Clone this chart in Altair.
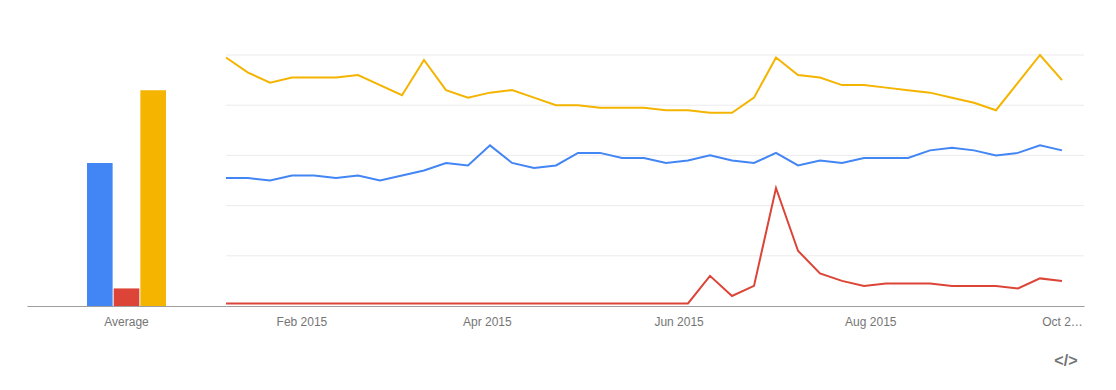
import altair as alt
import pandas as pd

# ---- data ----
series = ["Term 1", "Term 2", "Term 3"]
colors = ["#4285F4", "#DB4437", "#F4B400"]

average_label = "Average"
averages = [57, 7, 86]

week_dates = [
    "2015-01-08", "2015-01-15", "2015-01-22", "2015-01-29", "2015-02-05",
    "2015-02-12", "2015-02-19", "2015-02-26", "2015-03-05", "2015-03-12",
    "2015-03-19", "2015-03-26", "2015-04-02", "2015-04-09", "2015-04-16",
    "2015-04-23", "2015-04-30", "2015-05-07", "2015-05-14", "2015-05-21",
    "2015-05-28", "2015-06-04", "2015-06-11", "2015-06-18", "2015-06-25",
    "2015-07-02", "2015-07-09", "2015-07-16", "2015-07-23", "2015-07-30",
    "2015-08-06", "2015-08-13", "2015-08-20", "2015-08-27", "2015-09-03",
    "2015-09-10", "2015-09-17", "2015-09-24", "2015-10-01",
]

blue_values = [51, 51, 50, 52, 52, 51, 52, 50, 52, 54,
               57, 56, 64, 57, 55, 56, 61, 61, 59, 59,
               57, 58, 60, 58, 57, 61, 56, 58, 57, 59,
               59, 59, 62, 63, 62, 60, 61, 64, 62]
red_values = [1, 1, 1, 1, 1, 1, 1, 1, 1, 1,
              1, 1, 1, 1, 1, 1, 1, 1, 1, 1,
              1, 1, 12, 4, 8, 47, 22, 13, 10, 8,
              9, 9, 9, 8, 8, 8, 7, 11, 10]
yellow_values = [99, 93, 89, 91, 91, 91, 92, 88, 84, 98,
                 86, 83, 85, 86, 83, 80, 80, 79, 79, 79,
                 78, 78, 77, 77, 83, 99, 92, 91, 88, 88,
                 87, 86, 85, 83, 81, 78, 89, 100, 90]

tick_months = [(2015, 2), (2015, 4), (2015, 6), (2015, 8), (2015, 10)]
y_grid = [20, 40, 60, 80, 100]
icon_text = "</>"

# ---- tables ----
avg_df = pd.DataFrame({
    "label": [average_label] * len(series),
    "series": series,
    "value": averages,
})

rows = []
for name, vals in zip(series, [blue_values, red_values, yellow_values]):
    for d, v in zip(week_dates, vals):
        rows.append({"date": d, "series": name, "value": v})
line_df = pd.DataFrame(rows)
grid_df = pd.DataFrame({"v": y_grid})

FONT = "Liberation Sans"
LABEL_COLOR = "#757575"
DOMAIN_COLOR = "#9e9e9e"
H = 251

color_scale = alt.Scale(domain=series, range=colors)
y_scale = alt.Scale(domain=[0, 100], nice=False, zero=True)

bars = alt.Chart(avg_df).mark_bar().encode(
    x=alt.X("label:N",
            scale=alt.Scale(paddingOuter=0.76, paddingInner=0),
            axis=alt.Axis(title=None, labelAngle=0, ticks=False, grid=False,
                          domainColor=DOMAIN_COLOR, labelColor=LABEL_COLOR,
                          labelFont=FONT, labelFontSize=12, labelPadding=10)),
    xOffset=alt.XOffset("series:N", sort=series,
                        scale=alt.Scale(paddingInner=0.04, paddingOuter=0)),
    y=alt.Y("value:Q", scale=y_scale, axis=None),
    color=alt.Color("series:N", scale=color_scale, legend=None),
).properties(width=199, height=H)

tick_values = [alt.DateTime(year=y, month=m, date=1, utc=True) for y, m in tick_months]

grid = alt.Chart(grid_df).mark_rule(color="#ebebeb", strokeWidth=1).encode(
    y=alt.Y("v:Q", scale=y_scale, axis=None),
)

lines = alt.Chart(line_df).mark_line(strokeWidth=2).encode(
    x=alt.X("date:T",
            scale=alt.Scale(type="utc",
                            domain=[alt.DateTime(year=2015, month=1, date=8, utc=True),
                                    alt.DateTime(year=2015, month=10, date=8, utc=True)]),
            axis=alt.Axis(title=None, values=tick_values, ticks=False, grid=False,
                          labelFlush=False, labelOverlap=False,
                          labelExpr="utcFormat(datum.value, '%b') == 'Oct' ? 'Oct 2\u2026' : utcFormat(datum.value, '%b %Y')",
                          domainColor=DOMAIN_COLOR, labelColor=LABEL_COLOR,
                          labelFont=FONT, labelFontSize=12, labelPadding=10)),
    y=alt.Y("value:Q", scale=y_scale, axis=None),
    color=alt.Color("series:N", scale=color_scale, legend=None),
)

main = alt.layer(grid, lines).properties(
    width=858, height=H,
    title=alt.TitleParams(text=icon_text, orient="bottom", anchor="end",
                          fontSize=16, fontWeight="bold", color=LABEL_COLOR,
                          font=FONT, offset=26, dx=-7),
)

chart = alt.hconcat(bars, main, spacing=0, bounds="flush").properties(
    padding={"left": 19, "top": 43, "right": 5, "bottom": 5},
).configure(background="white").configure_view(strokeWidth=0)

chart.save("out.html", embed_options={"renderer": "svg", "actions": False})
